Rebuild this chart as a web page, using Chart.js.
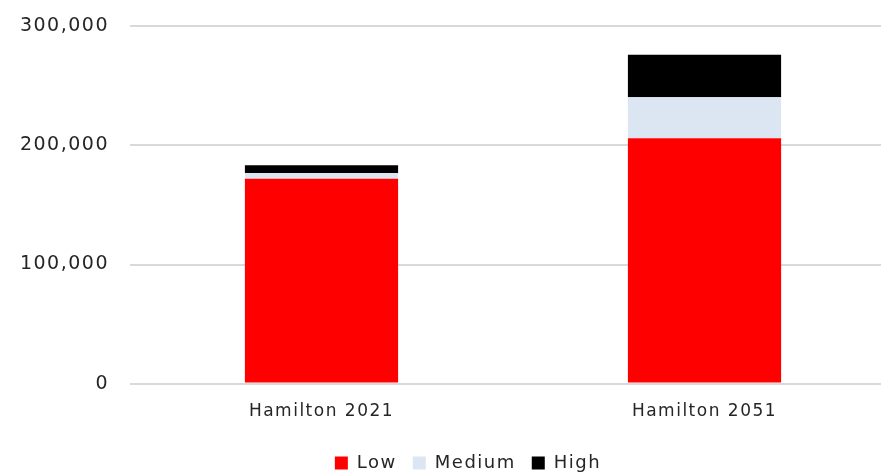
<!DOCTYPE html>
<html>
<head>
<meta charset="utf-8">
<script src="https://cdn.jsdelivr.net/npm/chart.js@4/dist/chart.umd.min.js"></script>
<style>
  html, body { margin: 0; padding: 0; background: #ffffff; overflow: hidden; }
  #wrap { width: 896px; height: 488px; margin-top: -6px; position: relative; }
</style>
</head>
<body>
<div id="wrap"><canvas id="chart"></canvas></div>
<script>
// Households by category, Hamilton
const categories = ['Hamilton 2021', 'Hamilton 2051'];
const lowValues = [172000, 206000];
const mediumValues = [4900, 34500];
const highValues = [6500, 35700];
const yTicks = [0, 100000, 200000, 300000];

const fontFamily = '"DejaVu Sans", "Open Sans", sans-serif';
const textColor = '#262626';

// Slightly wider lettering for all chart text (set before measuring and drawing)
const spacingPlugin = {
  id: 'letterSpacing',
  beforeLayout(chart) { chart.ctx.letterSpacing = '1.5px'; },
  beforeDraw(chart) { chart.ctx.letterSpacing = '1.5px'; }
};

// Nudge the legend row to the right, under the plot area
const legendShift = {
  id: 'legendShift',
  afterLayout(chart) {
    if (chart.legend) {
      chart.legend.left += 20;
      chart.legend.right += 20;
    }
  }
};

new Chart(document.getElementById('chart'), {
  type: 'bar',
  data: {
    labels: categories,
    datasets: [
      { label: 'Low', data: lowValues, backgroundColor: '#ff0000' },
      { label: 'Medium', data: mediumValues, backgroundColor: '#dce6f2' },
      { label: 'High', data: highValues, backgroundColor: '#000000' }
    ]
  },
  plugins: [spacingPlugin, legendShift],
  options: {
    responsive: true,
    maintainAspectRatio: false,
    animation: false,
    layout: { padding: { top: 12, right: 0, left: 0, bottom: 0 } },
    datasets: { bar: { barPercentage: 0.4, categoryPercentage: 1.0 } },
    plugins: {
      tooltip: { enabled: false },
      legend: {
        position: 'bottom',
        labels: {
          color: textColor,
          font: { family: fontFamily, size: 18 },
          boxWidth: 13,
          boxHeight: 13,
          padding: 16
        }
      }
    },
    scales: {
      x: {
        stacked: true,
        grid: { display: false, drawTicks: false },
        border: { display: false },
        afterFit: (axis) => { axis.height -= 2; },
        ticks: {
          color: textColor,
          font: { family: fontFamily, size: 17 },
          padding: 18
        }
      },
      y: {
        stacked: true,
        min: 0,
        max: 300000,
        afterBuildTicks: (axis) => { axis.ticks = yTicks.map(v => ({ value: v })); },
        afterFit: (axis) => { axis.width = 130; },
        grid: { color: '#d9d9d9', lineWidth: 2, drawTicks: false },
        border: { display: false },
        ticks: {
          color: textColor,
          font: { family: fontFamily, size: 19 },
          padding: 21,
          callback: (v) => v.toLocaleString('en-US')
        }
      }
    }
  }
});
</script>
</body>
</html>
